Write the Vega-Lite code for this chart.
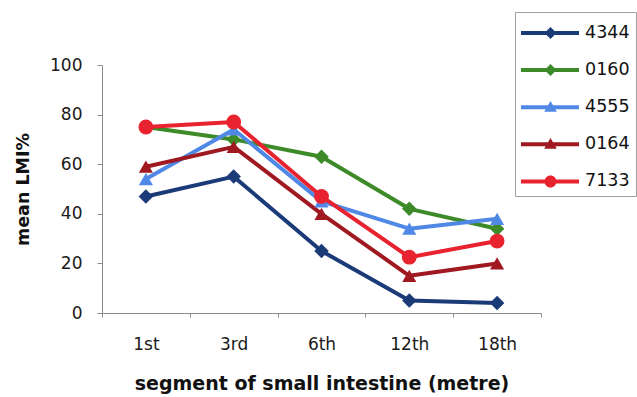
{
  "$schema": "https://vega.github.io/schema/vega-lite/v6.json",
  "autosize": "none",
  "width": 439,
  "height": 248,
  "padding": {"left": 102, "top": 65, "right": 96, "bottom": 84},
  "background": "white",
  "data": {
    "values": [
      {"strain": "4344", "segment": "1st", "lmi": 47},
      {"strain": "4344", "segment": "3rd", "lmi": 55},
      {"strain": "4344", "segment": "6th", "lmi": 25},
      {"strain": "4344", "segment": "12th", "lmi": 5},
      {"strain": "4344", "segment": "18th", "lmi": 4},
      {"strain": "0160", "segment": "1st", "lmi": 75},
      {"strain": "0160", "segment": "3rd", "lmi": 70},
      {"strain": "0160", "segment": "6th", "lmi": 63},
      {"strain": "0160", "segment": "12th", "lmi": 42},
      {"strain": "0160", "segment": "18th", "lmi": 34},
      {"strain": "4555", "segment": "1st", "lmi": 54},
      {"strain": "4555", "segment": "3rd", "lmi": 74},
      {"strain": "4555", "segment": "6th", "lmi": 45},
      {"strain": "4555", "segment": "12th", "lmi": 34},
      {"strain": "4555", "segment": "18th", "lmi": 38},
      {"strain": "0164", "segment": "1st", "lmi": 59},
      {"strain": "0164", "segment": "3rd", "lmi": 67},
      {"strain": "0164", "segment": "6th", "lmi": 40},
      {"strain": "0164", "segment": "12th", "lmi": 15},
      {"strain": "0164", "segment": "18th", "lmi": 20},
      {"strain": "7133", "segment": "1st", "lmi": 75},
      {"strain": "7133", "segment": "3rd", "lmi": 77},
      {"strain": "7133", "segment": "6th", "lmi": 47},
      {"strain": "7133", "segment": "12th", "lmi": 22.5},
      {"strain": "7133", "segment": "18th", "lmi": 29}
    ]
  },
  "config": {
    "view": {"stroke": null},
    "axis": {
      "domainColor": "#8c8c8c",
      "tickColor": "#8c8c8c",
      "grid": false,
      "labelFont": "DejaVu Sans",
      "labelFontSize": 17,
      "labelColor": "#1a1a1a",
      "titleFont": "DejaVu Sans",
      "titleFontWeight": "bold",
      "titleColor": "#111111"
    }
  },
  "encoding": {
    "x": {
      "field": "segment",
      "type": "ordinal",
      "sort": ["1st", "3rd", "6th", "12th", "18th"],
      "scale": {"type": "band", "paddingInner": 0, "paddingOuter": 0},
      "axis": {
        "title": "segment of small intestine (metre)",
        "titleFontSize": 19,
        "titlePadding": 22,
        "labelAngle": 0,
        "tickBand": "extent",
        "tickSize": 4,
        "labelPadding": 19
      }
    },
    "y": {
      "field": "lmi",
      "type": "quantitative",
      "scale": {"domain": [0, 100], "nice": false},
      "axis": {
        "title": "mean LMI%",
        "titleFontSize": 17.5,
        "titlePadding": 17,
        "values": [0, 20, 40, 60, 80, 100],
        "tickSize": 5,
        "labelPadding": 15
      }
    },
    "color": {
      "field": "strain",
      "type": "nominal",
      "scale": {
        "domain": ["4344", "0160", "4555", "0164", "7133"],
        "range": ["#1b3a78", "#3d8a28", "#5088e6", "#a01820", "#e8222e"]
      },
      "legend": {
        "title": null,
        "orient": "none",
        "legendX": 413,
        "legendY": -53,
        "padding": 6,
        "strokeColor": "#a0a0a0",
        "fillColor": "white",
        "symbolSize": 900,
        "symbolType": "circle",
        "rowPadding": 13.1,
        "labelOffset": 34,
        "labelFont": "DejaVu Sans",
        "labelFontSize": 17.5,
        "labelColor": "#111111",
        "encode": {
          "symbols": {
            "update": {
              "shape": {"signal": "datum.value === '4344' || datum.value === '0160' ? 'M-1,-0.133L2.867,-0.133L2.867,0.133L-1,0.133Z M0.967,-0.4L1.367,0L0.967,0.4L0.567,0Z' : datum.value === '7133' ? 'M-1,-0.133L2.867,-0.133L2.867,0.133L-1,0.133Z M0.567,0A0.4,0.4 0 1,1 1.367,0A0.4,0.4 0 1,1 0.567,0Z' : 'M-1,-0.133L2.867,-0.133L2.867,0.133L-1,0.133Z M0.967,-0.42L1.387,0.3L0.547,0.3Z'"},
              "fill": {"signal": "scale('color', datum.value)"},
              "stroke": {"signal": "scale('color', datum.value)"},
              "strokeWidth": {"value": 0},
              "opacity": {"value": 1},
              "fillOpacity": {"value": 1}
            }
          }
        }
      }
    }
  },
  "layer": [
    {
      "mark": {"type": "line", "strokeWidth": 4, "strokeJoin": "round"}
    },
    {
      "transform": [{"filter": {"field": "strain", "oneOf": ["4344", "0160"]}}],
      "mark": {"type": "point", "shape": "diamond", "filled": true, "opacity": 1, "size": 210}
    },
    {
      "transform": [{"filter": {"field": "strain", "oneOf": ["4555", "0164"]}}],
      "mark": {"type": "point", "shape": "triangle-up", "filled": true, "opacity": 1, "size": 200}
    },
    {
      "transform": [{"filter": {"field": "strain", "oneOf": ["7133"]}}],
      "mark": {"type": "point", "shape": "circle", "filled": true, "opacity": 1, "size": 220}
    }
  ]
}
